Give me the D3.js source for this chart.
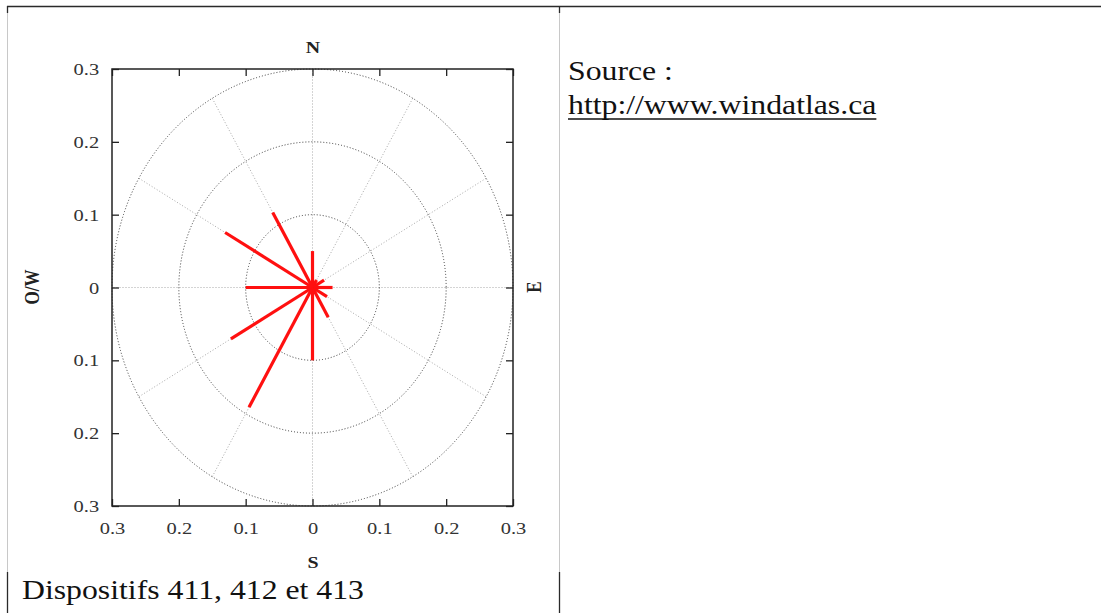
<!DOCTYPE html>
<html><head><meta charset="utf-8">
<script src="https://cdn.jsdelivr.net/npm/d3@7"></script>
<style>
html,body{margin:0;padding:0;background:#fff;}
svg{display:block;}
</style></head>
<body>
<svg id="c" width="1101" height="613"></svg>
<script>
// Data
const directions = [0, 30, 60, 90, 120, 150, 180, 210, 240, 270, 300, 330];
const frequencies = [0.05, 0.012, 0.02, 0.03, 0.025, 0.047, 0.1, 0.19, 0.141, 0.1, 0.151, 0.119];
const tickValues = [-0.3, -0.2, -0.1, 0, 0.1, 0.2, 0.3];
const tickLabels = ["0.3", "0.2", "0.1", "0", "0.1", "0.2", "0.3"];
const ringRadii = [0.1, 0.2, 0.3];
const spokeAngles = [0, 30, 60, 90, 120, 150, 180, 210, 240, 270, 300, 330];
const compass = {N: "N", S: "S", E: "E", W: "O/W"};
const sourceLines = ["Source :", "http://www.windatlas.ca"];
const caption = "Dispositifs 411, 412 et 413";

const svg = d3.select("#c");
const serif = "'Liberation Serif','DejaVu Serif',serif";
const SX = 1.17;
const SXB = 1.19;

// Table borders
const dark = "#2a2a2a", light = "#c8c8c8";
svg.append("line").attr("x1", 7).attr("x2", 1101).attr("y1", 6.5).attr("y2", 6.5).attr("stroke", dark).attr("stroke-width", 1.5);
[7.5, 559.5].forEach(xx => {
  svg.append("line").attr("x1", xx).attr("x2", xx).attr("y1", 6).attr("y2", 13).attr("stroke", dark).attr("stroke-width", 1.3);
  svg.append("line").attr("x1", xx).attr("x2", xx).attr("y1", 13).attr("y2", 572).attr("stroke", light).attr("stroke-width", 1);
  svg.append("line").attr("x1", xx).attr("x2", xx).attr("y1", 572).attr("y2", 613).attr("stroke", dark).attr("stroke-width", 1.3);
});

// Scales
const x = d3.scaleLinear().domain([-0.3, 0.3]).range([112, 513]);
const y = d3.scaleLinear().domain([-0.3, 0.3]).range([506, 69]);
const cx = x(0), cy = y(0);
const rx = r => x(r) - x(0), ry = r => y(0) - y(r);

const g = svg.append("g");

// Spokes
g.selectAll(".spoke").data(spokeAngles).join("line")
  .attr("x1", cx).attr("y1", cy)
  .attr("x2", a => x(0.3 * Math.sin(a * Math.PI / 180)))
  .attr("y2", a => y(0.3 * Math.cos(a * Math.PI / 180)))
  .attr("stroke", "#a8a8a8").attr("stroke-width", 1).attr("stroke-dasharray", "1,2");

// Rings
g.selectAll(".ring").data(ringRadii).join("ellipse")
  .attr("cx", cx).attr("cy", cy)
  .attr("rx", r => rx(r)).attr("ry", r => ry(r))
  .attr("fill", "none").attr("stroke", "#3a3a3a").attr("stroke-width", 1).attr("stroke-dasharray", "1,2");

// Bars
g.selectAll(".bar").data(directions).join("line")
  .attr("x1", cx).attr("y1", cy)
  .attr("x2", (a, i) => x(frequencies[i] * Math.sin(a * Math.PI / 180)))
  .attr("y2", (a, i) => y(frequencies[i] * Math.cos(a * Math.PI / 180)))
  .attr("stroke", "#ff1010").attr("stroke-width", 3.2);

// Axes
const fmt = d => tickLabels[tickValues.findIndex(v => Math.abs(v - d) < 1e-9)];
const ax = (gen, tr) => {
  const a = svg.append("g").attr("transform", tr).call(gen);
  a.select(".domain").remove();
  a.selectAll(".tick line").attr("stroke", "#222").attr("stroke-width", 1.3);
  a.selectAll(".tick text").attr("font-family", serif).attr("font-size", 17.5).attr("fill", "#333");
  return a;
};
const bottom = ax(d3.axisBottom(x).tickValues(tickValues).tickFormat(fmt).tickSizeInner(-7).tickSizeOuter(0).tickPadding(16), `translate(0,506)`);
bottom.selectAll(".tick text").attr("transform", `scale(${SX},1)`);
const left = ax(d3.axisLeft(y).tickValues(tickValues).tickFormat(fmt).tickSizeInner(-7).tickSizeOuter(0).tickPadding(11), `translate(112,0)`);
left.selectAll(".tick text").attr("transform", `scale(${SX},1)`);
ax(d3.axisTop(x).tickValues(tickValues).tickFormat("").tickSizeInner(-7).tickSizeOuter(0), `translate(0,69)`);
ax(d3.axisRight(y).tickValues(tickValues).tickFormat("").tickSizeInner(-7).tickSizeOuter(0), `translate(513,0)`);

// Frame
svg.append("rect").attr("x", 112).attr("y", 69).attr("width", 401).attr("height", 437)
  .attr("fill", "none").attr("stroke", "#222").attr("stroke-width", 1.5);

// Compass labels
const lab = (t, px, py, rot) => svg.append("text")
  .attr("transform", `translate(${px},${py}) rotate(${rot}) scale(${rot ? 1 : SX},${rot ? SX : 1})`)
  .attr("text-anchor", "middle").attr("dominant-baseline", "central")
  .attr("font-family", serif).attr("font-size", 17).attr("font-weight", "bold").attr("fill", "#222").text(t);
lab(compass.N, 313, 47, 0);
lab(compass.S, 313, 562, 0);
lab(compass.E, 535, 287, -90);
lab(compass.W, 33, 287, -90);

// Right cell text
const big = (t, px, py) => svg.append("text")
  .attr("transform", `translate(${px},${py}) scale(${SXB},1)`)
  .attr("font-family", serif).attr("font-size", 26.7).attr("fill", "#111").text(t);
big(sourceLines[0], 568, 80);
const link = big(sourceLines[1], 568, 114);
const bb = link.node().getBBox();
svg.append("line").attr("x1", 568).attr("x2", 568 + bb.width * SXB).attr("y1", 119).attr("y2", 119)
  .attr("stroke", "#111").attr("stroke-width", 1.5);
big(caption, 22, 599);
</script>
</body></html>
